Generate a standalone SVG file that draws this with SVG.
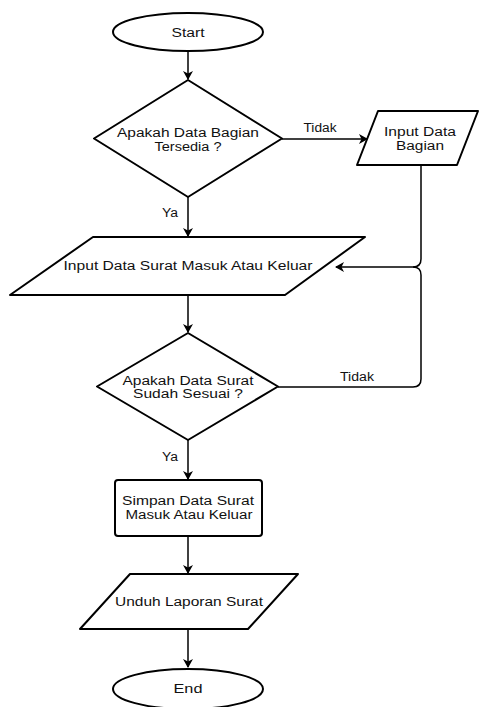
<svg xmlns="http://www.w3.org/2000/svg" width="481" height="707" viewBox="0 0 481 707">
<style>
.s{fill:#fff;stroke:#000;stroke-width:2;stroke-linejoin:round}
.c{fill:none;stroke:#000;stroke-width:1.5}
.t{font-family:"Liberation Sans",Arial,sans-serif;font-size:12px;fill:#111;text-anchor:middle}
</style>
<defs>
<marker id="a" markerWidth="10" markerHeight="10" refX="8" refY="5" orient="auto" markerUnits="userSpaceOnUse">
<path d="M0,0 L9,5 L0,10 L2.5,5 Z" fill="#000"/>
</marker>
</defs>
<g id="connectors">
<line class="c" x1="188" y1="51" x2="188" y2="79" marker-end="url(#a)"/>
<line class="c" x1="282" y1="139" x2="367" y2="139" marker-end="url(#a)"/>
<line class="c" x1="188" y1="197" x2="188" y2="236" marker-end="url(#a)"/>
<path class="c" d="M421,165 L421,259 Q421,267 413,267 L336,267" marker-end="url(#a)"/>
<line class="c" x1="188" y1="295" x2="188" y2="332" marker-end="url(#a)"/>
<path class="c" d="M278,387 L413,387 Q421,387 421,379 L421,275 Q421,267 413,267"/>
<line class="c" x1="188" y1="440" x2="188" y2="479" marker-end="url(#a)"/>
<line class="c" x1="188" y1="536" x2="188" y2="573" marker-end="url(#a)"/>
<line class="c" x1="188" y1="629" x2="188" y2="667" marker-end="url(#a)"/>
<text class="t" x="320" y="132" textLength="33" lengthAdjust="spacingAndGlyphs">Tidak</text>
<text class="t" x="170" y="217" textLength="16" lengthAdjust="spacingAndGlyphs">Ya</text>
<text class="t" x="357" y="381" textLength="34" lengthAdjust="spacingAndGlyphs">Tidak</text>
<text class="t" x="170" y="461" textLength="16" lengthAdjust="spacingAndGlyphs">Ya</text>
</g>
<g id="start">
<ellipse class="s" cx="188" cy="32" rx="75" ry="19"/>
<text class="t" x="188" y="37" textLength="33" lengthAdjust="spacingAndGlyphs">Start</text>
</g>
<g id="decision1">
<polygon class="s" points="188,80 282,138.5 188,197 94,138.5"/>
<text class="t" x="188" y="137" textLength="142" lengthAdjust="spacingAndGlyphs">Apakah Data Bagian</text>
<text class="t" x="188" y="151" textLength="67" lengthAdjust="spacingAndGlyphs">Tersedia ?</text>
</g>
<g id="inputBagian">
<polygon class="s" points="378,111 478,111 457,165 357,165"/>
<text class="t" x="420" y="136" textLength="72" lengthAdjust="spacingAndGlyphs">Input Data</text>
<text class="t" x="420" y="150" textLength="48" lengthAdjust="spacingAndGlyphs">Bagian</text>
</g>
<g id="inputSurat">
<polygon class="s" points="93,237 365,237 285,295 10,295"/>
<text class="t" x="188" y="270" textLength="249" lengthAdjust="spacingAndGlyphs">Input Data Surat Masuk Atau Keluar</text>
</g>
<g id="decision2">
<polygon class="s" points="188,333 278,386.5 188,440 97,386.5"/>
<text class="t" x="188" y="385" textLength="131" lengthAdjust="spacingAndGlyphs">Apakah Data Surat</text>
<text class="t" x="188" y="398" textLength="110" lengthAdjust="spacingAndGlyphs">Sudah Sesuai ?</text>
</g>
<g id="simpan">
<rect class="s" x="115" y="480" width="147" height="56" rx="3"/>
<text class="t" x="188" y="505" textLength="132" lengthAdjust="spacingAndGlyphs">Simpan Data Surat</text>
<text class="t" x="189" y="519" textLength="127" lengthAdjust="spacingAndGlyphs">Masuk Atau Keluar</text>
</g>
<g id="unduh">
<polygon class="s" points="130,574 298,574 248,629 80,629"/>
<text class="t" x="189" y="606" textLength="148" lengthAdjust="spacingAndGlyphs">Unduh Laporan Surat</text>
</g>
<g id="end">
<ellipse class="s" cx="188" cy="689" rx="75" ry="20"/>
<text class="t" x="188" y="693" textLength="29" lengthAdjust="spacingAndGlyphs">End</text>
</g>
</svg>
